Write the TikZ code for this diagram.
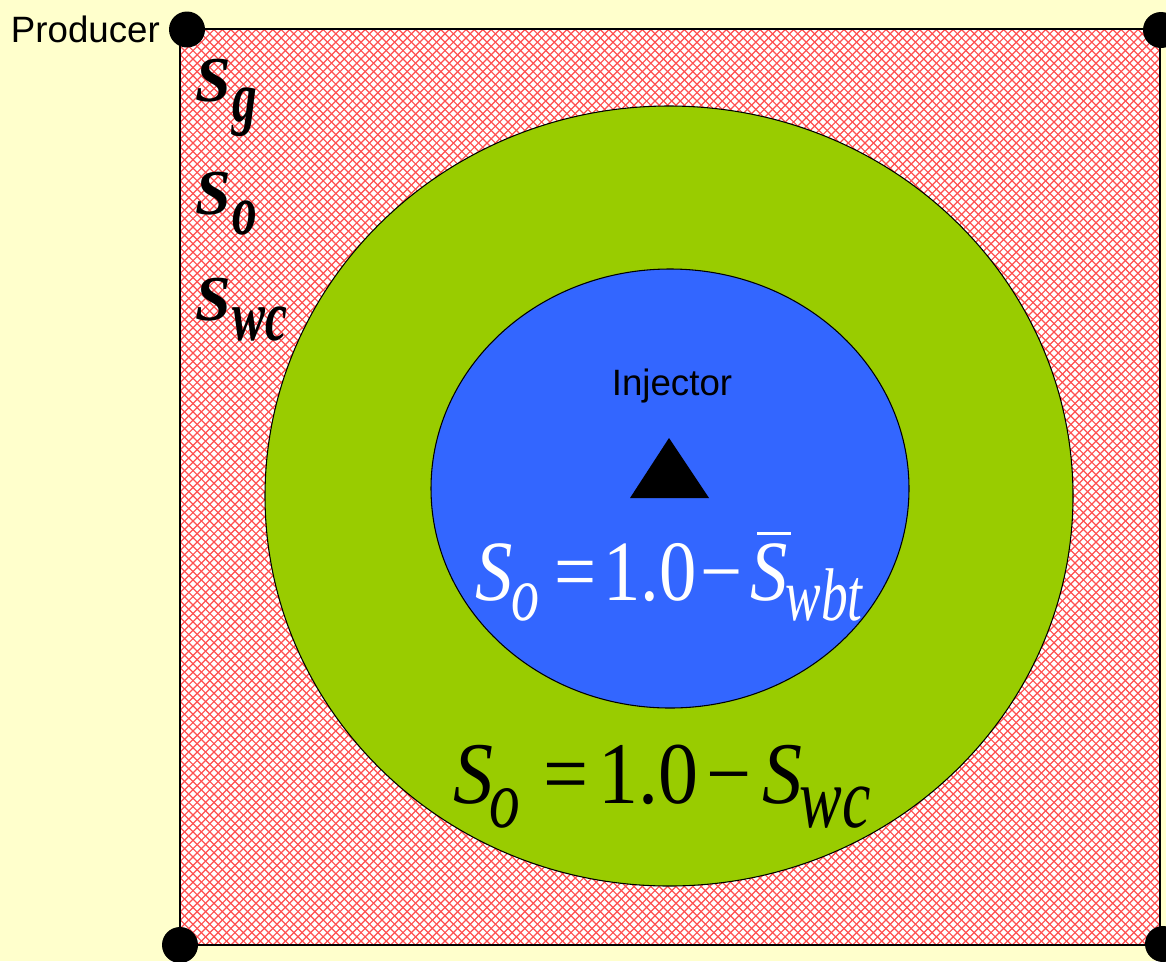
\documentclass[tikz,border=0pt]{standalone}
\usepackage{graphicx}
\usepackage{fontspec}
\newfontfamily\tnrfont{Liberation Serif}
\newfontfamily\arialfont{Liberation Sans}
\definecolor{bgyellow}{RGB}{255,255,204}
\definecolor{hatchred}{RGB}{255,80,80}
\definecolor{ringgreen}{RGB}{153,204,0}
\definecolor{coreblue}{RGB}{51,102,255}
% #1 vertical stretch, #2 size (pt), #3 text
\newcommand{\stretchtxt}[3]{\scalebox{1}[#1]{\fontsize{#2}{#2}\selectfont #3}}
\newcommand{\satfont}{\tnrfont\fontsize{48}{48}\selectfont\bfseries\itshape}
\newcommand{\satsub}[1]{\raisebox{-15pt}{\stretchtxt{1.45}{37}{#1}}}
\begin{document}
\begin{tikzpicture}[x=0.75pt,y=-0.75pt,
  welldot/.style={circle,fill=black,inner sep=0pt,minimum size=27pt},
  lbl/.style={inner sep=0pt,font=\arialfont\fontsize{27.5}{27.5}\selectfont},
  satlbl/.style={inner sep=0pt,anchor=base west,font=\satfont},
  eqlbl/.style={inner sep=0pt,anchor=base west,font=\tnrfont}]
\useasboundingbox (0,0) rectangle (1166,961);
\fill[bgyellow] (0,0) rectangle (1166,961);
% hatched square
\fill[white] (180,29) rectangle (1160,945);
\begin{scope}
\clip (180,29) rectangle (1160,945);
\foreach \c in {0,8.4,...,2200} {
  \draw[hatchred,line width=0.9pt] (\c+100,-100) -- (\c-1100,1100);
}
\foreach \c in {-1000,-991.6,...,1200} {
  \draw[hatchred,line width=0.9pt] (\c-100,-100) -- (\c+1100,1100);
}
\end{scope}
\draw[black,line width=1.6pt] (180,29) rectangle (1160,945);
% regions
\draw[fill=ringgreen,line width=0.8pt] (669,496) ellipse [x radius=404,y radius=390];
\draw[fill=coreblue,line width=0.8pt] (670,488.5) ellipse [x radius=239,y radius=219.5];
% wells
\node[welldot] (p1) at (187,29.5) {};
\node[welldot] (p2) at (1161,30) {};
\node[welldot] (p3) at (180,945) {};
\node[welldot] (p4) at (1163,944) {};
\node[lbl,anchor=east] (prod) at (160,29) {Producer};
\node[lbl] (inj) at (672,386) {Injector};
\fill[black] (669,438) -- (709,498) -- (630,498) -- cycle;
% saturation labels
\node[satlbl] (sg) at (195,101) {S\kern1pt\satsub{g}};
\node[satlbl] (so) at (195,214) {S\kern1pt\satsub{o}};
\node[satlbl] (swc) at (195,320) {S\kern1pt\satsub{wc}};
% equations
\node[eqlbl,text=white] (eq1) at (475,600) {%
  \stretchtxt{1.15}{56}{\itshape S}\kern-0.5pt%
  \raisebox{-15.5pt}{\stretchtxt{1.4}{42}{\itshape o}}\kern11pt%
  \stretchtxt{1.15}{56}{=}\kern5pt%
  \stretchtxt{1.15}{56}{1.0}\kern3pt%
  \stretchtxt{1.15}{56}{−}\kern6pt%
  \rlap{\raisebox{49pt}{\kern5pt\rule{25pt}{2pt}}}%
  \stretchtxt{1.15}{56}{\itshape S}\kern-2pt%
  \raisebox{-15.5pt}{\stretchtxt{1.4}{40}{\itshape wbt}}};
\node[eqlbl,text=black] (eq2) at (453,803) {%
  \stretchtxt{1.1}{60}{\itshape S}\kern-3pt%
  \raisebox{-18pt}{\stretchtxt{1.35}{46}{\itshape o}}\kern18pt%
  \stretchtxt{1.1}{60}{=}\kern7pt%
  \stretchtxt{1.1}{60}{1.0}\kern6pt%
  \stretchtxt{1.1}{60}{−}\kern8pt%
  \stretchtxt{1.1}{60}{\itshape S}\kern-2pt%
  \raisebox{-18pt}{\stretchtxt{1.35}{48}{\itshape wc}}};
\end{tikzpicture}
\end{document}
